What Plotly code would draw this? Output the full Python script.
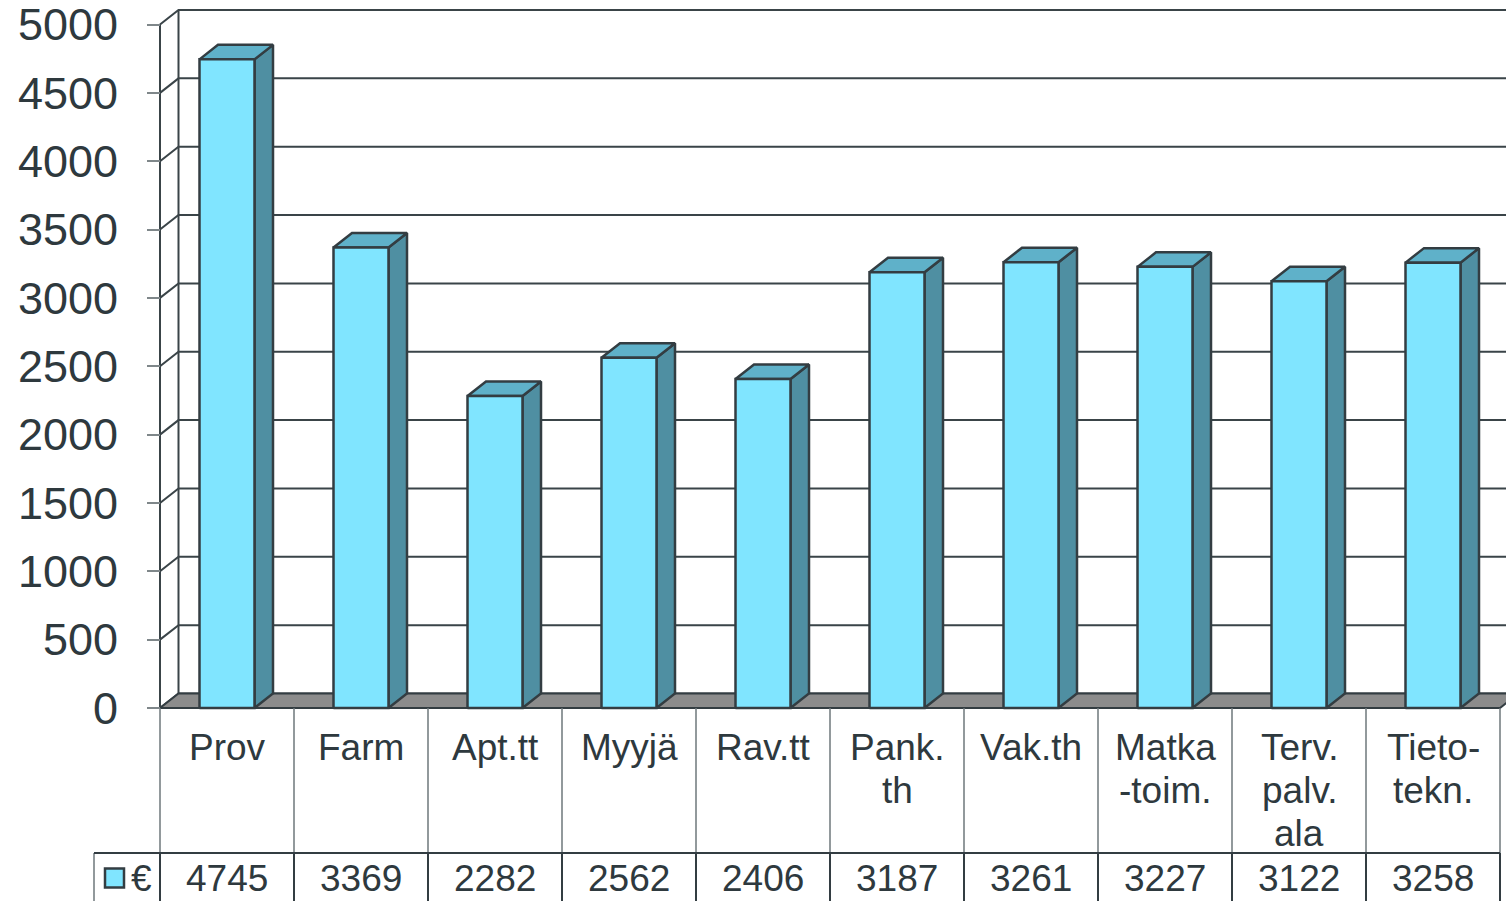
import plotly.graph_objects as go

# ---------------- data ----------------
categories = ["Prov", "Farm", "Apt.tt", "Myyjä", "Rav.tt", "Pank.\nth", "Vak.th",
              "Matka\n-toim.", "Terv.\npalv.\nala", "Tieto-\ntekn."]
values = [4745, 3369, 2282, 2562, 2406, 3187, 3261, 3227, 3122, 3258]
tick_values = [0, 500, 1000, 1500, 2000, 2500, 3000, 3500, 4000, 4500, 5000]
tick_labels = [str(v) for v in tick_values]
series_name = "€"

# ---------------- styling / geometry constants ----------------
W, H = 1506, 901
PX_PER_CAT = 134.0          # pixels per category
PX_PER_UNIT = 0.1367        # pixels per value unit
X0_PX = 160.0               # pixel of category edge -0.5
Y0_PX = 708.0               # pixel of value 0 (front)

def px_to_x(px):
    return -0.5 + (px - X0_PX) / PX_PER_CAT

def px_to_y(py):
    return (Y0_PX - py) / PX_PER_UNIT

DX = 18.5 / PX_PER_CAT      # depth offset in x units
DY = 14.5 / PX_PER_UNIT     # depth offset in value units
HALF_W = 27.5 / PX_PER_CAT  # bar half width
N = len(categories)
X_LEFT = -0.5
X_RIGHT = N - 0.5

FRONT = "#80E5FF"
TOP = "#5FB1C9"
SIDE = "#4F8FA2"
EDGE = "#333D42"
GRID = "#3A4448"
FLOOR = "#8C8C8C"
TEXT = "#2E393E"
FONT = "Liberation Sans, Arial, sans-serif"

fig = go.Figure()

# back wall gridlines + left wall diagonals
gx, gy = [], []
for v in tick_values:
    gx += [X_LEFT, X_LEFT + DX, X_RIGHT + DX + 1, None]
    gy += [v, v + DY, v + DY, None]
# wall verticals (front axis line and back corner)
gx += [X_LEFT, X_LEFT, None, X_LEFT + DX, X_LEFT + DX, None]
gy += [0, tick_values[-1], None, DY, tick_values[-1] + DY, None]
fig.add_trace(go.Scatter(x=gx, y=gy, mode="lines",
                         line=dict(color=GRID, width=2), hoverinfo="skip"))

# floor
fig.add_trace(go.Scatter(
    x=[X_LEFT, X_LEFT + DX, X_RIGHT + DX, X_RIGHT, X_LEFT],
    y=[0, DY, DY, 0, 0],
    mode="lines", fill="toself", fillcolor=FLOOR,
    line=dict(color=EDGE, width=2), hoverinfo="skip"))

# bars
for i, v in enumerate(values):
    l, r = i - HALF_W, i + HALF_W
    # side face
    fig.add_trace(go.Scatter(
        x=[r, r + DX, r + DX, r, r], y=[0, DY, v + DY, v, 0],
        mode="lines", fill="toself", fillcolor=SIDE,
        line=dict(color=EDGE, width=2.5), hoverinfo="skip"))
    # top face
    fig.add_trace(go.Scatter(
        x=[l, l + DX, r + DX, r, l], y=[v, v + DY, v + DY, v, v],
        mode="lines", fill="toself", fillcolor=TOP,
        line=dict(color=EDGE, width=2.5), hoverinfo="skip"))
    # front face
    fig.add_trace(go.Scatter(
        x=[l, l, r, r, l], y=[0, v, v, 0, 0],
        mode="lines", fill="toself", fillcolor=FRONT,
        line=dict(color=EDGE, width=2.5), hoverinfo="skip"))

# ---------------- data table ----------------
ROW_Y = px_to_y(853)
BOTTOM_Y = px_to_y(H + 10)
LEG_X = px_to_x(94)

tx, ty = [], []
for k in range(N + 1):
    tx += [X_LEFT + k, X_LEFT + k, None]
    ty += [0, ROW_Y, None]
tx += [LEG_X, LEG_X, None]
ty += [ROW_Y, BOTTOM_Y, None]
fig.add_trace(go.Scatter(x=tx, y=ty, mode="lines",
                         line=dict(color="#6E777B", width=1.5), hoverinfo="skip"))

dx_, dy_ = [LEG_X, X_RIGHT, None], [ROW_Y, ROW_Y, None]
for k in range(N + 1):
    dx_ += [X_LEFT + k, X_LEFT + k, None]
    dy_ += [ROW_Y, BOTTOM_Y, None]
fig.add_trace(go.Scatter(x=dx_, y=dy_, mode="lines",
                         line=dict(color=EDGE, width=2), hoverinfo="skip"))

# legend key in table
fig.add_trace(go.Scatter(
    x=[px_to_x(114.5)], y=[px_to_y(878)], mode="markers",
    marker=dict(symbol="square", size=19, color=FRONT,
                line=dict(color=EDGE, width=2.5)),
    hoverinfo="skip"))

annotations = []
LINE_PX = 43
for i, cat in enumerate(categories):
    for k, part in enumerate(cat.split("\n")):
        annotations.append(dict(
            x=i, y=px_to_y(747 + k * LINE_PX), xref="x", yref="y",
            text=part, showarrow=False, xanchor="center", yanchor="middle",
            font=dict(family=FONT, size=37, color=TEXT)))
for i, v in enumerate(values):
    annotations.append(dict(
        x=i, y=px_to_y(878), xref="x", yref="y",
        text=str(v), showarrow=False, xanchor="center", yanchor="middle",
        font=dict(family=FONT, size=37, color=TEXT)))
annotations.append(dict(
    x=px_to_x(141.5), y=px_to_y(878), xref="x", yref="y",
    text=series_name, showarrow=False, xanchor="center", yanchor="middle",
    font=dict(family=FONT, size=37, color=TEXT)))

fig.update_layout(
    width=W, height=H, autosize=False,
    margin=dict(l=0, r=0, t=0, b=0, pad=0),
    paper_bgcolor="white", plot_bgcolor="white",
    showlegend=False,
    annotations=annotations,
    xaxis=dict(visible=False, range=[px_to_x(0), px_to_x(W)], fixedrange=True),
    yaxis=dict(range=[px_to_y(H), px_to_y(0)], anchor="free",
               position=X0_PX / W,
               tickmode="array", tickvals=tick_values, ticktext=tick_labels,
               ticks="outside", ticklen=13, tickwidth=2, tickcolor="#7F878A",
               ticklabelstandoff=20, ticklabeloverflow="allow",
               tickfont=dict(family=FONT, size=45, color=TEXT),
               showgrid=False, zeroline=False, showline=False, fixedrange=True),
)

fig.write_html("out.html", config={"displayModeBar": False},
               post_script="document.body.style.margin='0';document.body.style.overflow='hidden';")
